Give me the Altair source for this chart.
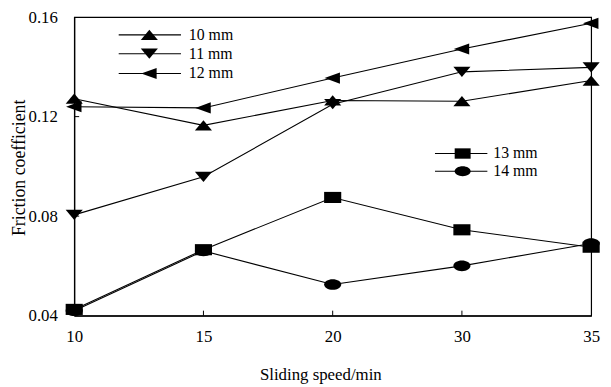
import altair as alt
import pandas as pd

speeds = ["10", "15", "20", "30", "35"]
series = ["10 mm", "11 mm", "12 mm", "13 mm", "14 mm"]
v10 = [0.1272, 0.1165, 0.1265, 0.1262, 0.1345]
v11 = [0.0805, 0.0958, 0.1250, 0.1380, 0.1398]
v12 = [0.1240, 0.1235, 0.1355, 0.1472, 0.1575]
v13 = [0.0425, 0.0665, 0.0875, 0.0745, 0.0675]
v14 = [0.0420, 0.0660, 0.0525, 0.0600, 0.0690]

TRI_UP = "M0,-0.6L1,0.6L-1,0.6Z"
TRI_DOWN = "M0,0.6L1,-0.6L-1,-0.6Z"
TRI_LEFT = "M-0.95,0L0.85,-0.65L0.85,0.65Z"
RECT = "M-1,-0.65L1,-0.65L1,0.65L-1,0.65Z"
ELLIPSE = "M-1,0A1,0.62,0,1,1,1,0A1,0.62,0,1,1,-1,0Z"
shapes = [TRI_UP, TRI_DOWN, TRI_LEFT, RECT, ELLIPSE]
sizes = [300, 300, 300, 260, 260]

rows = []
for s, vals in zip(series, [v10, v11, v12, v13, v14]):
    for sp, v in zip(speeds, vals):
        rows.append({"speed": sp, "series": s, "value": v})
df = pd.DataFrame(rows)

W, H = 523, 302
FONT = "Liberation Serif"

x = alt.X("speed:N", sort=speeds,
          scale=alt.Scale(type="point", padding=0),
          axis=alt.Axis(title="Sliding speed/min", labelAngle=0, ticks=False,
                        labelPadding=13, labelFontSize=17, labelFont=FONT,
                        titleFont=FONT, titleFontSize=17, titleFontWeight="normal",
                        titleBaseline="alphabetic", titleY=65, titleX=249))
y = alt.Y("value:Q",
          scale=alt.Scale(domain=[0.04, 0.16], nice=False, zero=False),
          axis=alt.Axis(title="Friction coefficient", values=[0.04, 0.08, 0.12, 0.16],
                        format=".2f", ticks=False, labelPadding=17,
                        labelFontSize=17, labelFont=FONT, titleFont=FONT,
                        titleFontSize=18, titleFontWeight="normal",
                        titleBaseline="alphabetic", titleX=-50, titleY=H / 2 + 1,
                        grid=False))
shape = alt.Shape("series:N", scale=alt.Scale(domain=series, range=shapes), legend=None)
size = alt.Size("series:N", scale=alt.Scale(domain=series, range=sizes), legend=None)

base = alt.Chart(df)
lines = base.mark_line(color="black", strokeWidth=1.1).encode(x=x, y=y, detail="series:N")
points = base.mark_point(filled=True, color="black", opacity=1).encode(
    x=x, y=y, shape=shape, size=size)

one = pd.DataFrame({"a": [0]})
layers = [lines, points]

# inward ticks
xt = pd.DataFrame({"speed": ["15", "20", "30"]})
layers.append(alt.Chart(xt).mark_rule(color="black").encode(
    x=alt.X("speed:N", sort=speeds, scale=alt.Scale(type="point", padding=0)),
    y=alt.value(H), y2=alt.value(H - 5)))
yt = pd.DataFrame({"value": [0.08, 0.12]})
layers.append(alt.Chart(yt).mark_rule(color="black").encode(
    y=alt.Y("value:Q"), x=alt.value(0), x2=alt.value(5)))

legend1 = [(45, 108, 76, 116, 18), (45, 108, 76, 116, 37), (45, 108, 76, 116, 57)]
legend2 = [(365, 418, 393, 424, 138), (365, 418, 393, 424, 156)]
for i, (x1, x2, xm, xtxt, yy) in enumerate(legend1 + legend2):
    c = alt.Chart(one)
    layers.append(c.mark_rule(color="black", strokeWidth=1.1).encode(
        x=alt.value(x1), x2=alt.value(x2), y=alt.value(yy)))
    layers.append(c.mark_point(filled=True, color="black", opacity=1,
                               shape=shapes[i], size=sizes[i]).encode(
        x=alt.value(xm), y=alt.value(yy)))
    layers.append(c.mark_text(align="left", baseline="middle", font=FONT,
                              fontSize=16, color="black").encode(
        x=alt.value(xtxt), y=alt.value(yy), text=alt.value(series[i])))

chart = alt.layer(*layers).properties(
    width=W, height=H,
    background="white",
    autosize=alt.AutoSizeParams(type="none"),
    padding={"left": 67, "top": 7, "right": 12, "bottom": 70},
).configure_view(stroke="black", strokeWidth=1.2).configure_axis(
    domainColor="black", labelColor="black", titleColor="black",
    labelFont=FONT, titleFont=FONT, domainWidth=1.2
)

chart.save("out.html", embed_options={"renderer": "svg", "actions": False})
